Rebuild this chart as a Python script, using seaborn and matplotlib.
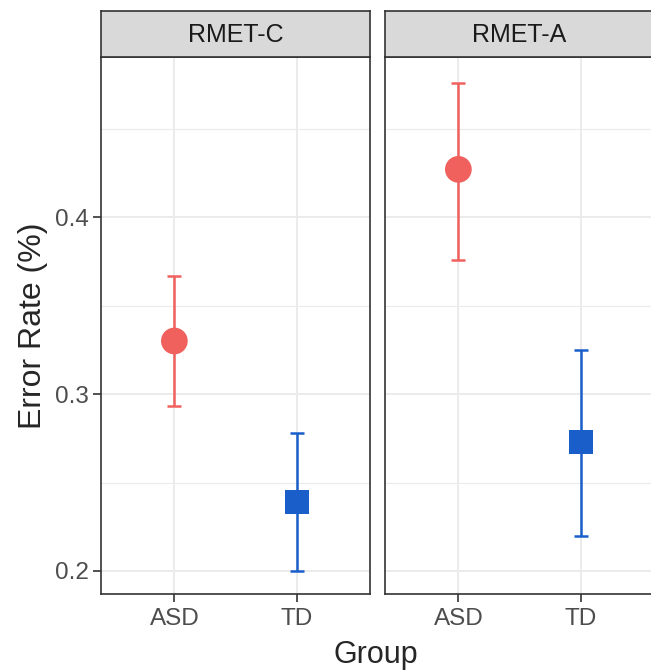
import pandas as pd
import matplotlib.pyplot as plt
import seaborn as sns

# values
tasks = ["RMET-C", "RMET-A"]
groups = ["ASD", "TD"]
means = {"RMET-C": [0.330, 0.239], "RMET-A": [0.427, 0.273]}
lower = {"RMET-C": [0.293, 0.200], "RMET-A": [0.376, 0.220]}
upper = {"RMET-C": [0.367, 0.278], "RMET-A": [0.476, 0.325]}

rows = []
for t in tasks:
    for i, g in enumerate(groups):
        rows.append({"Task": t, "Group": g, "Mean": means[t][i],
                     "Lo": lower[t][i], "Hi": upper[t][i]})
df = pd.DataFrame(rows)

colors = {"ASD": "#F0605D", "TD": "#1A5FC9"}
markers = {"ASD": "o", "TD": "s"}

sns.set_style("white")
plt.rcParams["font.family"] = ["Liberation Sans", "DejaVu Sans"]

fig = plt.figure(figsize=(6.51, 6.70), dpi=100)
W, H = 651, 670
lefts = [101, 385]
pw = 269
top, bottom = 57, 594
strip_h = 46

for k, t in enumerate(tasks):
    ax = fig.add_axes([lefts[k] / W, 1 - bottom / H, pw / W, (bottom - top) / H])
    sub = df[df["Task"] == t].copy()
    sub["x"] = [0, 1]

    ax.set_xlim(-0.6, 1.6)
    ax.set_ylim(0.187, 0.4905)
    for y in [0.2, 0.25, 0.3, 0.35, 0.4, 0.45]:
        ax.axhline(y, color="#EBEBEB", lw=1.4 if y in (0.2, 0.3, 0.4) else 0.8, zorder=0)
    for x in [0, 1]:
        ax.axvline(x, color="#EBEBEB", lw=1.4, zorder=0)

    for _, r in sub.iterrows():
        ax.errorbar(r["x"], r["Mean"], yerr=[[r["Mean"] - r["Lo"]], [r["Hi"] - r["Mean"]]],
                    fmt="none", ecolor=colors[r["Group"]], elinewidth=1.8,
                    capsize=5, capthick=1.8, zorder=2)
    sns.scatterplot(data=sub, x="x", y="Mean", hue="Group", style="Group",
                    palette=colors, markers=markers, s=360,
                    linewidth=0, legend=False, ax=ax, zorder=3)
    # square a bit smaller than the circle
    ax.collections[-1].set_sizes([370, 300])

    ax.set_xticks([0, 1])
    ax.set_xticklabels(groups, fontsize=17.5, color="#4D4D4D")
    ax.set_yticks([0.2, 0.3, 0.4])
    if k == 0:
        ax.set_yticklabels(["0.2", "0.3", "0.4"], fontsize=17.5, color="#4D4D4D")
        ax.set_ylabel("Error Rate (%)", fontsize=23, labelpad=5)
        ax.tick_params(axis="y", left=True, length=6, width=1.2, color="#333333", pad=3)
    else:
        ax.set_yticklabels([])
        ax.set_ylabel("")
        ax.tick_params(axis="y", left=False, length=0)
    ax.set_xlabel("")
    ax.tick_params(axis="x", bottom=True, length=6, width=1.2, color="#333333", pad=4)
    for s in ax.spines.values():
        s.set_color("#333333")
        s.set_linewidth(1.2)

    sax = fig.add_axes([lefts[k] / W, 1 - top / H, pw / W, strip_h / H])
    sax.set_facecolor("#D9D9D9")
    sax.set_xticks([])
    sax.set_yticks([])
    for s in sax.spines.values():
        s.set_color("#333333")
        s.set_linewidth(1.2)
    sax.text(0.5, 0.47, t, ha="center", va="center", fontsize=18, color="#1A1A1A",
             transform=sax.transAxes)

fig.text((101 + 651) / 2 / W, 1 - 655 / H, "Group", ha="center", va="center", fontsize=22)

fig.savefig("out.png", dpi=100)
